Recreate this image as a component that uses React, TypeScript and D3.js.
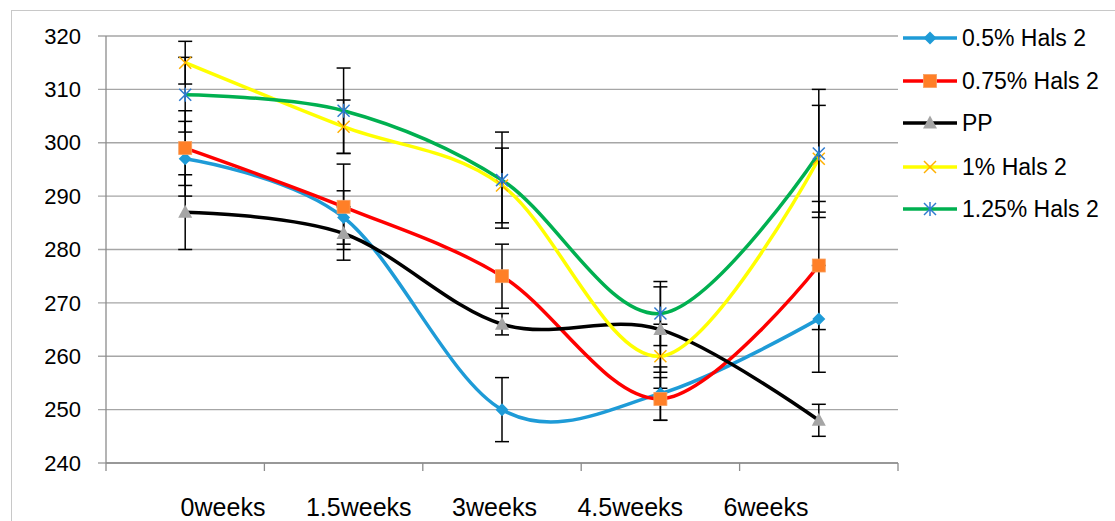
import React from 'react';
import * as d3 from 'd3';

// Categories and axis ticks
const categories = ['0weeks', '1.5weeks', '3weeks', '4.5weeks', '6weeks'];
const yTicks = [240, 250, 260, 270, 280, 290, 300, 310, 320];

// Series values
const hals05 = [297, 286, 250, 253, 267];
const hals075 = [299, 288, 275, 252, 277];
const pp = [287, 283, 266, 265, 248];
const hals1 = [315, 303, 292, 260, 297];
const hals125 = [309, 306, 293, 268, 298];

// Symmetric error amounts (±)
const hals05Err = [7, 5, 6, 5, 10];
const hals075Err = [7, 8, 6, 4, 12];
const ppErr = [7, 5, 2, 8, 3];
const hals1Err = [4, 5, 7, 6, 10];
const hals125Err = [7, 8, 9, 6, 12];

type MarkerKind = 'diamond' | 'square' | 'triangle' | 'x' | 'star';

const series: { name: string; values: number[]; err: number[]; line: string; marker: MarkerKind; markerColor: string }[] = [
  { name: '0.5% Hals 2', values: hals05, err: hals05Err, line: '#1e9bd7', marker: 'diamond', markerColor: '#1e9bd7' },
  { name: '0.75% Hals 2', values: hals075, err: hals075Err, line: '#ff0000', marker: 'square', markerColor: '#ff7f27' },
  { name: 'PP', values: pp, err: ppErr, line: '#000000', marker: 'triangle', markerColor: '#a5a5a5' },
  { name: '1% Hals 2', values: hals1, err: hals1Err, line: '#ffff00', marker: 'x', markerColor: '#ffb000' },
  { name: '1.25% Hals 2', values: hals125, err: hals125Err, line: '#00b050', marker: 'star', markerColor: '#2e7bd0' },
];

const W = 1115;
const H = 521;
const plotLeft = 106;
const plotRight = 898;
const plotTop = 36;
const plotBottom = 463;
const FONT = '"Liberation Sans", Arial, sans-serif';

function Marker({ kind, x, y, color }: { kind: MarkerKind; x: number; y: number; color: string }) {
  switch (kind) {
    case 'diamond':
      return <path d={`M${x},${y - 6.5}L${x + 6.5},${y}L${x},${y + 6.5}L${x - 6.5},${y}Z`} fill={color} />;
    case 'square':
      return <rect x={x - 6.5} y={y - 6.5} width={13} height={13} fill={color} stroke="#f8a060" strokeWidth={0.8} />;
    case 'triangle':
      return <path d={`M${x},${y - 7.5}L${x + 7},${y + 5.5}L${x - 7},${y + 5.5}Z`} fill={color} />;
    case 'x':
      return (
        <g stroke={color} strokeWidth={1.5}>
          <line x1={x - 6} y1={y - 6} x2={x + 6} y2={y + 6} />
          <line x1={x - 6} y1={y + 6} x2={x + 6} y2={y - 6} />
        </g>
      );
    case 'star':
      return (
        <g stroke={color} strokeWidth={1.5}>
          <line x1={x - 6} y1={y - 6} x2={x + 6} y2={y + 6} />
          <line x1={x - 6} y1={y + 6} x2={x + 6} y2={y - 6} />
          <line x1={x} y1={y - 7} x2={x} y2={y + 7} />
        </g>
      );
  }
  return null;
}

export default function App() {
  const x = d3.scaleBand<string>().domain(categories).range([plotLeft, plotRight]);
  const cx = (c: string) => (x(c) as number) + x.bandwidth() / 2;
  const y = d3.scaleLinear().domain([240, 320]).range([plotBottom, plotTop]);
  const labelX = d3.scalePoint<string>().domain(categories).range([223, 766]);

  const line = d3
    .line<number>()
    .x((_, i) => cx(categories[i]))
    .y((d) => y(d))
    .curve(d3.curveCatmullRom.alpha(0));

  const boundaries = [...categories.map((c) => x(c) as number), plotRight];

  return (
    <svg width={W} height={H} style={{ position: 'absolute', left: 0, top: 0, background: '#fff' }} fontFamily={FONT}>
      <rect x={0} y={0} width={W} height={H} fill="#fff" />
      {/* chart frame */}
      <rect x={11.5} y={10.5} width={W + 20} height={H + 20} fill="none" stroke="#c8c8c8" strokeWidth={1} />

      {/* horizontal gridlines and y ticks */}
      {yTicks.map((t) => (
        <g key={t}>
          <line x1={plotLeft - 8} x2={plotRight} y1={y(t)} y2={y(t)} stroke="#a6a6a6" strokeWidth={1.3} />
          <text x={81} y={y(t)} dy="0.35em" textAnchor="end" fontSize={22} fill="#000">
            {t}
          </text>
        </g>
      ))}

      {/* axes */}
      <line x1={plotLeft} x2={plotLeft} y1={plotTop} y2={plotBottom} stroke="#8c8c8c" strokeWidth={1.3} />
      <line x1={plotLeft} x2={plotRight} y1={plotBottom} y2={plotBottom} stroke="#8c8c8c" strokeWidth={1.3} />
      {boundaries.map((b, i) => (
        <line key={i} x1={b} x2={b} y1={plotBottom} y2={plotBottom + 8} stroke="#8c8c8c" strokeWidth={1.3} />
      ))}

      {/* category labels */}
      {categories.map((c) => (
        <text key={c} x={labelX(c)} y={516} textAnchor="middle" fontSize={25} fill="#000">
          {c}
        </text>
      ))}

      {/* series lines */}
      {series.map((s) => (
        <path key={s.name} d={line(s.values) || ''} fill="none" stroke={s.line} strokeWidth={3.5} />
      ))}

      {/* error bars */}
      {series.map((s) =>
        s.values.map((v, i) => {
          const px = cx(categories[i]);
          const hi = y(v + s.err[i]);
          const lo = y(v - s.err[i]);
          return (
            <g key={s.name + i} stroke="#000" strokeWidth={1.5}>
              <line x1={px} x2={px} y1={hi} y2={lo} />
              <line x1={px - 7} x2={px + 7} y1={hi} y2={hi} />
              <line x1={px - 7} x2={px + 7} y1={lo} y2={lo} />
            </g>
          );
        })
      )}

      {/* markers */}
      {series.map((s) =>
        s.values.map((v, i) => (
          <Marker key={s.name + 'm' + i} kind={s.marker} x={cx(categories[i])} y={y(v)} color={s.markerColor} />
        ))
      )}

      {/* legend */}
      {series.map((s, i) => {
        const ly = [38, 81, 123, 167, 209][i];
        return (
          <g key={s.name + 'leg'}>
            <line x1={903} x2={957} y1={ly} y2={ly} stroke={s.line} strokeWidth={3.5} />
            <Marker kind={s.marker} x={930} y={ly} color={s.markerColor} />
            <text x={962} y={ly} dy="0.35em" fontSize={23} fill="#000">
              {s.name}
            </text>
          </g>
        );
      })}
    </svg>
  );
}
